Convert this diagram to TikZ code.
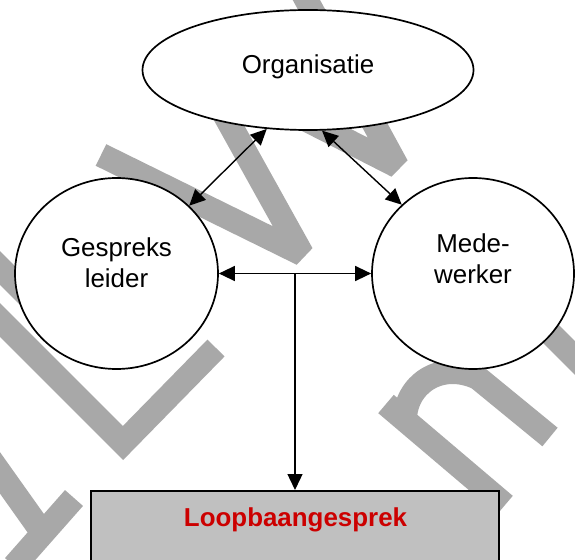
\documentclass[tikz,border=0pt]{standalone}
\usepackage{fontspec}
\setmainfont{Liberation Sans}
\usetikzlibrary{arrows.meta,shapes.geometric,calc}
\definecolor{wmgray}{RGB}{168,168,168}
\definecolor{boxgray}{RGB}{192,192,192}
\definecolor{lbred}{RGB}{204,0,0}
\begin{document}
\begin{tikzpicture}[x=1bp,y=-1bp,
  wm/.style={draw=wmgray,line width=24bp,line cap=butt},
  shapebox/.style={draw=black,line width=1.7bp,fill=white,inner sep=0pt},
  lbl/.style={font=\fontsize{26}{30.5}\selectfont,inner sep=0pt,align=center},
  conn/.style={line width=1.4bp,{Triangle[length=16bp,width=15bp]}-{Triangle[length=16bp,width=15bp]}},
  oneway/.style={line width=1.4bp,-{Triangle[length=16bp,width=15bp]}}]
\useasboundingbox (0,0) rectangle (575,560);
\fill[white] (0,0) rectangle (575,560);
\clip (0,0) rectangle (575,560);
% watermark
\draw[wm,line join=bevel] (101,155) -- (302,254) -- (193,58);
\draw[wm,line join=bevel] (197,64) -- (397,166) -- (290,-30);
\draw[wm,line join=miter] (-30,290) -- (123,443) -- (216,348);
\draw[wm] (-20,248) -- (50,318);
\draw[wm] (-12,456) -- (42,532);
\draw[wm] (14,566) -- (74,498);
\draw[wm] (386,404) -- (505,505);
\draw[wm] (405,420) .. controls (405,385) and (440,360) .. (478,378) -- (550,437);
\draw[wm] (530,313) -- (600,383);
% shapes
\node[shapebox,ellipse,minimum width=331bp,minimum height=120bp] (org) at (308,70) {};
\node[shapebox,ellipse,minimum width=203bp,minimum height=191bp] (gl) at (116.5,273.5) {};
\node[shapebox,ellipse,minimum width=202bp,minimum height=191bp] (mw) at (473,273.5) {};
\node[draw=black,line width=1.7bp,fill=boxgray,minimum width=408bp,minimum height=100bp,anchor=north,inner sep=0pt] (lb) at (295,490) {};
% texts
\node[lbl,anchor=base] (orgt) at (308,74) {Organisatie};
\node[lbl,anchor=north] (glt) at (116.5,238) {Gespreks\\leider};
\node[lbl,anchor=north] (mwt) at (473,234) {Mede-\\werker};
\node[lbl,anchor=base,font=\fontsize{26}{30.5}\selectfont\bfseries,text=lbred] (lbt) at (295.5,526) {Loopbaangesprek};
% connectors
\draw[conn] (org.235.6) -- (gl.43.5);
\draw[conn] (org.283) -- (mw.136.4);
\draw[conn] (gl.east) -- (mw.west);
\coordinate (j) at ($(gl.east)!0.5!(mw.west)$);
\draw[oneway] (j) -- (lb.north);
\end{tikzpicture}
\end{document}
